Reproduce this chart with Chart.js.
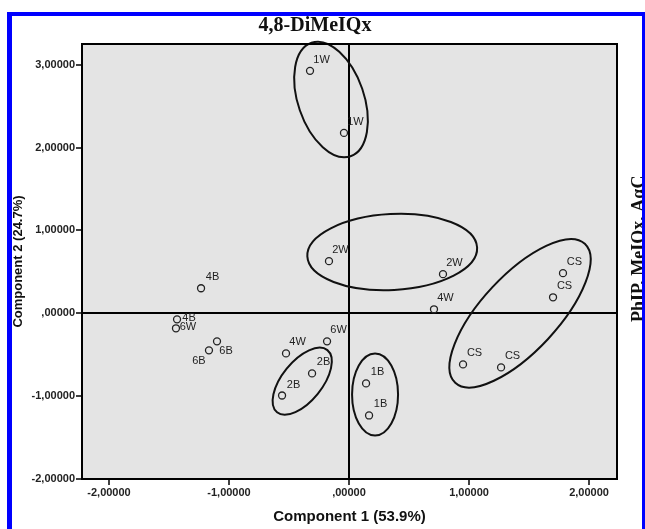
<!DOCTYPE html>
<html>
<head>
<meta charset="utf-8">
<script src="https://cdn.jsdelivr.net/npm/chart.js@4.4.0/dist/chart.umd.min.js"></script>
<style>
  body { margin: 0; background: #fff; }
</style>
</head>
<body>
<canvas id="pcaChart" width="645" height="529"></canvas>
<script>
// PCA scores, one entry per sample
const sampleNames = ['1W', '1W', '2W', '2W', '4W', '4W', '6W', '6W', '4B', '4B',
                     '6B', '6B', '2B', '2B', '1B', '1B', 'CS', 'CS', 'CS', 'CS'];
const comp1 = [-0.325, -0.042, -0.167, 0.783, 0.708, -0.525, -0.183, -1.442, -1.233, -1.433,
               -1.10, -1.167, -0.308, -0.558, 0.142, 0.167, 1.783, 1.70, 0.95, 1.267];
const comp2 = [2.926, 2.177, 0.629, 0.472, 0.048, -0.484, -0.339, -0.181, 0.302, -0.073,
               -0.339, -0.447, -0.726, -0.992, -0.846, -1.233, 0.484, 0.193, -0.617, -0.653];
// where the name sits next to its point (mostly up-right)
const labelSide = ['ne', 'ne', 'ne', 'ne', 'ne', 'ne', 'ne', 'e', 'ne', 'e',
                   'se', 'sw', 'ne', 'ne', 'ne', 'ne', 'ne', 'ne', 'ne', 'ne'];

const xTicks = [-2, -1, 0, 1, 2];
const xTickLabels = ['-2,00000', '-1,00000', ',00000', '1,00000', '2,00000'];
const yTicks = [-2, -1, 0, 1, 2, 3];
const yTickLabels = ['-2,00000', '-1,00000', ',00000', '1,00000', '2,00000', '3,00000'];

// hand drawn groupings (centre in data units, radii in px)
const rings = [
    { x: -0.15, y: 2.58, rx: 33, ry: 60, rot: -19 },
    { x: 0.36, y: 0.74, rx: 85, ry: 38, rot: -3 },
    { x: 1.425, y: 0.0, rx: 95, ry: 38, rot: -47 },
    { x: -0.39, y: -0.82, rx: 40, ry: 20, rot: -51 },
    { x: 0.217, y: -0.98, rx: 23, ry: 41, rot: 0 }
];

const sideOffsets = { ne: [11.5, -11], e: [12, -1], se: [9, 10], sw: [-10, 11] };

const sans = '"Liberation Sans", Arial, sans-serif';
const serif = '"Liberation Serif", "Times New Roman", serif';

const paperPlugin = {
    id: 'paper',
    beforeDraw(chart) {
        const { ctx, chartArea: a } = chart;
        ctx.save();
        ctx.fillStyle = '#e4e4e4';
        ctx.fillRect(a.left, a.top, a.right - a.left, a.bottom - a.top);
        ctx.restore();
    },
    afterDraw(chart) {
        const { ctx, chartArea: a, scales: { x, y } } = chart;
        ctx.save();

        // ellipses
        ctx.strokeStyle = '#111';
        ctx.lineWidth = 2;
        rings.forEach(r => {
            ctx.beginPath();
            ctx.ellipse(x.getPixelForValue(r.x), y.getPixelForValue(r.y), r.rx, r.ry,
                r.rot * Math.PI / 180, 0, 2 * Math.PI);
            ctx.stroke();
        });

        // point names
        ctx.font = '11px ' + sans;
        ctx.fillStyle = '#222';
        ctx.textAlign = 'center';
        ctx.textBaseline = 'middle';
        chart.getDatasetMeta(0).data.forEach((pt, i) => {
            const off = sideOffsets[labelSide[i]];
            ctx.fillText(sampleNames[i], pt.x + off[0], pt.y + off[1]);
        });

        // plot frame
        ctx.lineWidth = 2;
        ctx.strokeStyle = '#000';
        ctx.strokeRect(a.left, a.top, a.right - a.left, a.bottom - a.top);

        // title
        ctx.font = 'bold 20px ' + serif;
        ctx.fillStyle = '#111';
        ctx.textBaseline = 'alphabetic';
        ctx.fillText('4,8-DiMeIQx', 315, 31);

        // title of the next panel, cut off at the edge
        ctx.translate(644, 322);
        ctx.rotate(-Math.PI / 2);
        ctx.textAlign = 'left';
        ctx.font = 'bold 18px ' + serif;
        ctx.fillText('PhIP, MeIQx, A\u03b1C', 0, 0);
        ctx.restore();

        // blue frame
        ctx.save();
        ctx.fillStyle = '#0000ff';
        ctx.fillRect(7, 12, 638, 4);
        ctx.fillRect(7, 12, 5, 517);
        ctx.fillRect(642, 12, 3, 517);
        ctx.restore();
    }
};

const tickFont = { family: sans, size: 11, weight: 'bold' };
const zeroLine = c => (c.tick && c.tick.value === 0) ? '#000' : 'rgba(0,0,0,0)';

new Chart(document.getElementById('pcaChart'), {
    type: 'scatter',
    data: {
        datasets: [{
            data: comp1.map((v, i) => ({ x: v, y: comp2[i] })),
            pointRadius: 3.5,
            pointHoverRadius: 3.5,
            pointBorderWidth: 1.3,
            borderColor: '#222',
            backgroundColor: 'rgba(0,0,0,0)'
        }]
    },
    options: {
        responsive: false,
        animation: false,
        devicePixelRatio: 1,
        layout: { padding: { top: 44, right: 28, left: 0, bottom: 0 } },
        plugins: {
            legend: { display: false },
            tooltip: { enabled: false }
        },
        scales: {
            x: {
                type: 'linear',
                min: -2.225,
                max: 2.233,
                afterBuildTicks: s => { s.ticks = xTicks.map(v => ({ value: v })); },
                afterFit: s => { s.height = 50; },
                ticks: {
                    callback: v => xTickLabels[xTicks.indexOf(v)],
                    font: tickFont,
                    color: '#222',
                    padding: 1,
                    maxRotation: 0
                },
                grid: { color: zeroLine, lineWidth: 2, tickColor: '#000', tickLength: 6, tickWidth: 1.5 },
                border: { display: false },
                title: {
                    display: true,
                    text: 'Component 1 (53.9%)',
                    font: { family: sans, size: 15, weight: 'bold' },
                    color: '#111',
                    padding: { top: 0, bottom: 3 }
                }
            },
            y: {
                type: 'linear',
                min: -2.0,
                max: 3.25,
                afterBuildTicks: s => { s.ticks = yTicks.map(v => ({ value: v })); },
                afterFit: s => { s.width = 82; },
                ticks: {
                    callback: v => yTickLabels[yTicks.indexOf(v)],
                    font: tickFont,
                    color: '#222',
                    padding: 1
                },
                grid: { color: zeroLine, lineWidth: 2, tickColor: '#000', tickLength: 6, tickWidth: 1.5 },
                border: { display: false },
                title: {
                    display: true,
                    text: 'Component 2 (24.7%)',
                    font: { family: sans, size: 13, weight: 'bold' },
                    color: '#111',
                    padding: { top: 11, bottom: 0 }
                }
            }
        }
    },
    plugins: [paperPlugin]
});
</script>
</body>
</html>
